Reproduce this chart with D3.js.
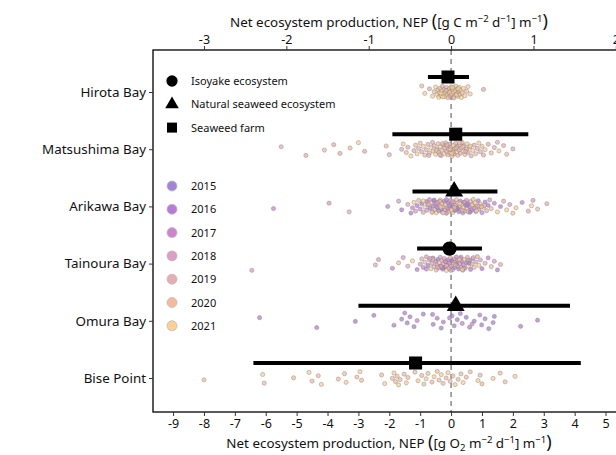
<!DOCTYPE html>
<html>
<head>
<meta charset="utf-8">
<script src="https://cdn.jsdelivr.net/npm/d3@7"></script>
<style>
  body { margin: 0; background: #fff; }
  svg { font-family: "Noto Sans", "Open Sans", sans-serif; }
</style>
</head>
<body>
<svg id="chart" width="616" height="455"></svg>
<script>
// sites, top to bottom
const sites = ['Hirota Bay', 'Matsushima Bay', 'Arikawa Bay', 'Tainoura Bay', 'Omura Bay', 'Bise Point'];
const years = [2015, 2016, 2017, 2018, 2019, 2020, 2021];
const yearColors = ['#a383d4', '#b87bd6', '#cd84cf', '#dc9ec2', '#e8adb0', '#f3bc9f', '#fccf92'];
const ecoTypes = ['Isoyake ecosystem', 'Natural seaweed ecosystem', 'Seaweed farm'];

// site summary: ecosystem type, mean, lower, upper (g O2 units)
const siteType = ['Seaweed farm', 'Seaweed farm', 'Natural seaweed ecosystem', 'Isoyake ecosystem', 'Natural seaweed ecosystem', 'Seaweed farm'];
const siteMean = [-0.1, 0.15, 0.1, -0.05, 0.15, -1.15];
const siteLow = [-0.75, -1.9, -1.25, -1.1, -3.0, -6.4];
const siteHigh = [0.58, 2.5, 1.5, 1.0, 3.85, 4.2];

// individual NEP observations [value, year]
const hirotaObs = [[-0.95,2020],[-0.85,2021],[-0.7,2019],[-0.6,2021],[-0.55,2020],[-0.5,2021],[-0.45,2021],[-0.42,2020],[-0.4,2021],[-0.38,2021],
  [-0.35,2020],[-0.32,2021],[-0.3,2021],[-0.28,2019],[-0.25,2021],[-0.22,2020],[-0.2,2021],[-0.18,2021],[-0.15,2020],[-0.12,2021],
  [-0.12,2021],[-0.1,2020],[-0.08,2021],[-0.05,2021],[-0.03,2019],[-0.02,2021],[0,2020],[0.02,2021],[0.05,2021],[0.07,2020],
  [0.08,2021],[0.1,2021],[0.12,2020],[0.14,2021],[0.15,2021],[0.18,2020],[0.2,2021],[0.22,2021],[0.25,2019],[0.26,2021],
  [0.28,2020],[0.3,2021],[0.33,2021],[0.36,2020],[0.4,2021],[0.45,2021],[0.5,2020],[0.55,2021],[0.62,2021],[1.05,2019],
  [-0.27,2021],[-0.06,2020],[0.04,2021],[0.17,2021],[-0.16,2019],[0.09,2020],[-0.33,2021],[0.23,2021]];

const matsushimaObs = [[-5.5,2019],[-4.7,2019],[-4.1,2020],[-3.8,2019],[-3.6,2019],[-3.27,2020],[-3.0,2021],[-2.8,2019],[-2.1,2020],[-2.0,2019],
  [-1.6,2019],[-1.55,2021],[-1.45,2020],[-1.4,2019],[-1.3,2021],[-1.2,2019],[-1.15,2020],[-1.1,2021],[-1.05,2019],[-1.0,2020],
  [-0.95,2019],[-0.9,2021],[-0.85,2020],[-0.8,2019],[-0.75,2019],[-0.7,2020],[-0.65,2021],[-0.6,2019],[-0.58,2020],[-0.55,2019],
  [-0.5,2021],[-0.45,2019],[-0.42,2020],[-0.4,2019],[-0.35,2021],[-0.32,2019],[-0.3,2020],[-0.25,2019],[-0.22,2021],[-0.2,2019],
  [-0.18,2020],[-0.15,2019],[-0.12,2021],[-0.1,2019],[-0.08,2020],[-0.05,2019],[-0.02,2021],[0,2019],[0.03,2020],[0.05,2019],
  [0.08,2021],[0.1,2019],[0.12,2020],[0.15,2019],[0.18,2021],[0.2,2019],[0.22,2020],[0.25,2019],[0.28,2021],[0.3,2019],
  [0.33,2020],[0.36,2019],[0.4,2021],[0.42,2019],[0.45,2020],[0.5,2019],[0.52,2021],[0.55,2019],[0.6,2020],[0.65,2019],
  [0.7,2021],[0.75,2019],[0.8,2020],[0.85,2019],[0.9,2021],[0.95,2019],[1.0,2020],[1.05,2019],[1.1,2021],[1.2,2019],
  [1.3,2020],[1.4,2019],[1.5,2019],[1.55,2021],[1.7,2019],[1.8,2020],[2.0,2019],[-0.28,2020],[0.07,2019],[0.38,2020],
  [-0.72,2019],[-0.48,2020],[-0.14,2019],[0.02,2021],[0.17,2019],[0.27,2020],[0.47,2019],[0.62,2021],[-0.37,2019],[-0.03,2020]];

const arikawaObs = [[-5.75,2017],[-3.95,2018],[-3.3,2019],[-2.05,2017],[-1.7,2018],[-1.6,2016],[-1.4,2019],[-1.3,2015],[-1.25,2017],[-1.2,2021],
  [-1.15,2018],[-1.1,2016],[-1.05,2020],[-1.0,2017],[-0.95,2015],[-0.9,2019],[-0.85,2021],[-0.8,2016],[-0.78,2018],[-0.75,2020],
  [-0.7,2017],[-0.68,2015],[-0.65,2021],[-0.6,2019],[-0.58,2016],[-0.55,2018],[-0.52,2020],[-0.5,2017],[-0.48,2021],[-0.45,2015],
  [-0.42,2019],[-0.4,2016],[-0.38,2018],[-0.35,2020],[-0.32,2017],[-0.3,2021],[-0.28,2015],[-0.25,2019],[-0.22,2016],[-0.2,2018],
  [-0.18,2020],[-0.15,2017],[-0.12,2021],[-0.1,2015],[-0.08,2019],[-0.05,2016],[-0.03,2018],[0,2020],[0.02,2017],[0.05,2021],
  [0.07,2015],[0.1,2019],[0.12,2016],[0.15,2018],[0.17,2020],[0.2,2017],[0.22,2021],[0.25,2015],[0.27,2019],[0.3,2016],
  [0.32,2018],[0.35,2020],[0.38,2017],[0.4,2021],[0.42,2015],[0.45,2019],[0.48,2016],[0.5,2018],[0.52,2020],[0.55,2017],
  [0.58,2021],[0.6,2015],[0.63,2019],[0.66,2016],[0.7,2018],[0.72,2020],[0.75,2017],[0.78,2021],[0.8,2015],[0.85,2019],
  [0.88,2016],[0.9,2018],[0.95,2020],[1.0,2017],[1.05,2021],[1.1,2015],[1.15,2019],[1.2,2016],[1.25,2018],[1.3,2020],
  [1.4,2017],[1.5,2021],[1.6,2016],[1.7,2019],[1.8,2021],[1.9,2018],[2.0,2020],[2.1,2021],[2.3,2017],[2.5,2019],
  [2.6,2021],[2.65,2018],[2.8,2020],[3.1,2019],[-0.62,2020],[-0.33,2021],[0.04,2018],[0.36,2019],[0.68,2021],[-0.15,2016],
  [0.2,2015],[-0.45,2018],[0.55,2020],[0.9,2019],[-0.9,2021],[0.14,2017],[-0.72,2019],[-0.26,2021],[0.11,2020],[0.44,2018],
  [0.82,2021],[1.08,2019],[-0.55,2015],[-0.09,2017],[0.28,2021],[0.62,2016],[0.98,2020],[-0.36,2019],[0.01,2021],[0.52,2015]];

const tainouraObs = [[-6.45,2018],[-2.45,2019],[-2.35,2018],[-1.9,2017],[-1.7,2020],[-1.55,2018],[-1.4,2019],[-1.25,2021],[-1.1,2016],[-1.0,2018],
  [-0.95,2019],[-0.9,2017],[-0.85,2020],[-0.8,2018],[-0.75,2015],[-0.7,2019],[-0.65,2021],[-0.62,2018],[-0.58,2016],[-0.55,2019],
  [-0.5,2017],[-0.48,2020],[-0.45,2018],[-0.42,2015],[-0.4,2019],[-0.37,2021],[-0.35,2018],[-0.32,2016],[-0.3,2019],[-0.27,2017],
  [-0.25,2020],[-0.22,2018],[-0.2,2015],[-0.17,2019],[-0.15,2021],[-0.12,2018],[-0.1,2016],[-0.07,2019],[-0.05,2017],[-0.02,2020],
  [0,2018],[0.03,2015],[0.05,2019],[0.08,2021],[0.1,2018],[0.12,2016],[0.15,2019],[0.17,2017],[0.2,2020],[0.22,2018],
  [0.25,2015],[0.28,2019],[0.3,2021],[0.33,2018],[0.35,2016],[0.38,2019],[0.4,2017],[0.43,2020],[0.45,2018],[0.5,2015],
  [0.53,2019],[0.56,2021],[0.6,2018],[0.63,2016],[0.67,2019],[0.7,2017],[0.75,2020],[0.8,2018],[0.85,2019],[0.9,2021],
  [0.95,2018],[1.0,2016],[1.1,2019],[1.2,2017],[1.3,2020],[1.4,2018],[1.5,2016],[1.6,2019],[-0.6,2020],[-0.28,2016],
  [0.07,2021],[0.32,2017],[-0.15,2019],[0.55,2018],[-0.8,2017],[0.18,2015],[-0.68,2018],[-0.44,2019],[-0.19,2017],[-0.01,2018],
  [0.13,2019],[0.27,2020],[0.41,2018],[0.58,2015],[0.72,2019],[-0.33,2018],[0.02,2016],[0.36,2021]];

const omuraObs = [[-6.2,2016],[-4.35,2016],[-3.1,2015],[-2.5,2016],[-1.85,2016],[-1.6,2015],[-1.5,2016],[-1.42,2015],[-1.33,2016],[-1.2,2015],
  [-1.1,2017],[-0.6,2016],[-0.58,2015],[-0.45,2016],[-0.32,2015],[-0.25,2016],[0.03,2015],[0.1,2016],[0.2,2015],[0.3,2016],
  [0.36,2017],[0.49,2015],[0.6,2016],[0.75,2015],[0.93,2016],[0.99,2015],[1.1,2016],[1.22,2015],[1.36,2016],[1.4,2015],
  [2.25,2016],[2.8,2016],[-0.9,2015],[0.68,2017],[-0.05,2016]];

const biseObs = [[-8.0,2020],[-6.1,2021],[-6.05,2020],[-5.1,2020],[-4.6,2021],[-4.5,2020],[-4.3,2020],[-4.2,2021],[-3.65,2020],[-3.45,2020],
  [-3.4,2021],[-3.05,2020],[-2.95,2021],[-2.9,2020],[-2.25,2020],[-2.15,2021],[-1.9,2020],[-1.85,2021],[-1.8,2020],[-1.75,2020],
  [-1.7,2021],[-1.65,2020],[-1.52,2020],[-1.45,2021],[-1.4,2020],[-1.17,2020],[-1.07,2021],[-0.95,2020],[-0.88,2020],[-0.81,2021],
  [-0.75,2020],[-0.62,2020],[-0.55,2021],[-0.45,2020],[-0.39,2020],[-0.32,2021],[-0.26,2020],[-0.16,2020],[-0.1,2021],[-0.03,2020],
  [0.06,2020],[0.13,2021],[0.23,2020],[0.32,2020],[0.39,2021],[0.49,2020],[0.62,2020],[0.87,2021],[0.94,2020],[1.0,2020],
  [1.36,2021],[1.59,2020],[1.75,2020],[2.07,2021]];

const siteObs = [hirotaObs, matsushimaObs, arikawaObs, tainouraObs, omuraObs, biseObs];
// vertical jitter half-height per site (px)
const siteSpread = [6, 7, 7, 7, 8, 7];

const svg = d3.select('#chart');
const margin = { left: 153, right: 625, top: 50, bottom: 412 };

// O2 to C conversion (12/32)
const o2ToC = 12 / 32;

const x = d3.scaleLinear().domain([-9.65, 5.63]).range([margin.left, margin.right]);
const xC = d3.scaleLinear().domain([-9.65 * o2ToC, 5.63 * o2ToC]).range([margin.left, margin.right]);
const y = d3.scalePoint().domain(sites).range([92, 378]);
const color = d3.scaleOrdinal().domain(years).range(yearColors);

const symbolType = {
  'Isoyake ecosystem': d3.symbolCircle,
  'Natural seaweed ecosystem': d3.symbolTriangle,
  'Seaweed farm': d3.symbolSquare
};
const markSize = { 'Isoyake ecosystem': 160, 'Natural seaweed ecosystem': 140, 'Seaweed farm': 170 };
const keySize = { 'Isoyake ecosystem': 100, 'Natural seaweed ecosystem': 80, 'Seaweed farm': 100 };

// zero line
svg.append('line')
  .attr('x1', x(0)).attr('x2', x(0))
  .attr('y1', margin.top).attr('y2', margin.bottom)
  .attr('stroke', '#777').attr('stroke-width', 1.3)
  .attr('stroke-dasharray', '5,4');

// jittered observations
const jitter = i => ((i * 0.6180339) % 1) - 0.5;
const pointGroup = svg.append('g');
siteObs.forEach((obs, s) => {
  pointGroup.selectAll(null)
    .data(obs)
    .enter()
    .append('circle')
    .attr('cx', d => x(d[0]))
    .attr('cy', (d, i) => y(sites[s]) + 2 * siteSpread[s] * jitter(i + s * 7))
    .attr('r', 2.1)
    .attr('fill', d => color(d[1]))
    .attr('fill-opacity', 0.75)
    .attr('stroke', '#808080')
    .attr('stroke-opacity', 0.7)
    .attr('stroke-width', 0.6);
});

// summary bars and markers
const barOffset = -15;
const summary = svg.append('g');
sites.forEach((site, i) => {
  const yy = y(site) + barOffset;
  summary.append('line')
    .attr('x1', x(siteLow[i])).attr('x2', x(siteHigh[i]))
    .attr('y1', yy).attr('y2', yy)
    .attr('stroke', '#000').attr('stroke-width', 4);
  summary.append('path')
    .attr('d', d3.symbol().type(symbolType[siteType[i]]).size(markSize[siteType[i]])())
    .attr('transform', `translate(${x(siteMean[i])},${yy})`)
    .attr('fill', '#000');
});

// panel border
svg.append('rect')
  .attr('x', margin.left).attr('y', margin.top)
  .attr('width', margin.right - margin.left).attr('height', margin.bottom - margin.top)
  .attr('fill', 'none').attr('stroke', '#000').attr('stroke-width', 1.3);

// axes
const plainFmt = d => String(d);
const bottomAxis = svg.append('g')
  .attr('transform', `translate(0,${margin.bottom})`)
  .call(d3.axisBottom(x).tickValues(d3.range(-9, 6)).tickSize(4).tickPadding(3).tickFormat(plainFmt));
const topAxis = svg.append('g')
  .attr('transform', `translate(0,${margin.top})`)
  .call(d3.axisTop(xC).tickValues(d3.range(-3, 3)).tickSize(4).tickPadding(2).tickFormat(plainFmt));
const leftAxis = svg.append('g')
  .attr('transform', `translate(${margin.left},0)`)
  .call(d3.axisLeft(y).tickSize(4).tickPadding(3));

[bottomAxis, topAxis, leftAxis].forEach(a => {
  a.select('.domain').remove();
  a.selectAll('text').attr('fill', '#111').style('font-family', '"Noto Sans", sans-serif');
  a.selectAll('line').attr('stroke', '#333');
});
bottomAxis.selectAll('text').attr('font-size', 12.5);
topAxis.selectAll('text').attr('font-size', 12.5);
leftAxis.selectAll('text').attr('font-size', 13.4);

// axis titles with superscripts / subscripts
function axisTitle(yPos, unitParts) {
  const t = svg.append('text')
    .attr('x', 389).attr('y', yPos)
    .attr('text-anchor', 'middle')
    .attr('font-size', 13.4).attr('fill', '#111');
  t.append('tspan').text('Net ecosystem production, NEP  ');
  t.append('tspan').attr('font-size', 18).text('(');
  unitParts.forEach(p => {
    const ts = t.append('tspan').text(p.text);
    if (p.sup) ts.attr('font-size', 9.5).attr('baseline-shift', 5);
    if (p.sub) ts.attr('font-size', 9.5).attr('baseline-shift', -3);
  });
  t.append('tspan').attr('font-size', 18).text(')');
}
axisTitle(27, [{ text: '[g C m' }, { text: '\u22122', sup: true }, { text: ' d' }, { text: '\u22121', sup: true }, { text: '] m' }, { text: '\u22121', sup: true }]);
axisTitle(448, [{ text: '[g O' }, { text: '2', sub: true }, { text: ' m' }, { text: '\u22122', sup: true }, { text: ' d' }, { text: '\u22121', sup: true }, { text: '] m' }, { text: '\u22121', sup: true }]);

// legend: ecosystem type
const legend = svg.append('g');
ecoTypes.forEach((eco, i) => {
  const ly = 81 + i * 23.3;
  legend.append('path')
    .attr('d', d3.symbol().type(symbolType[eco]).size(keySize[eco])())
    .attr('transform', `translate(172,${ly})`)
    .attr('fill', '#000');
  legend.append('text')
    .attr('x', 191).attr('y', ly + 4)
    .attr('font-size', 11).attr('fill', '#111')
    .text(eco);
});

// legend: year
years.forEach((yr, i) => {
  const ly = 186 + i * 23.3;
  legend.append('circle')
    .attr('cx', 172).attr('cy', ly).attr('r', 5)
    .attr('fill', color(yr))
    .attr('stroke', '#bbb').attr('stroke-width', 0.8);
  legend.append('text')
    .attr('x', 191).attr('y', ly + 4)
    .attr('font-size', 11).attr('fill', '#111')
    .text(yr);
});
</script>
</body>
</html>
